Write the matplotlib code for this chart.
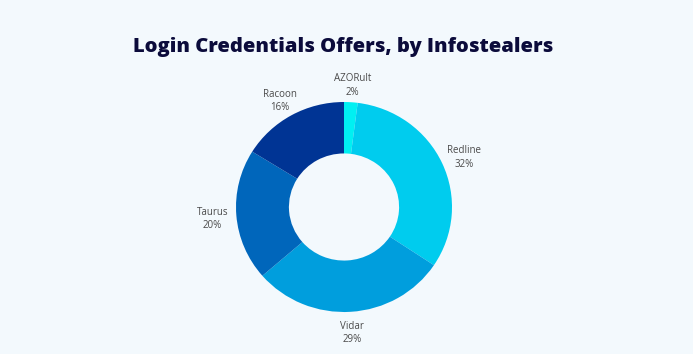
import numpy as np
import matplotlib
matplotlib.use("Agg")
import matplotlib.pyplot as plt

# slice data, clockwise from the top
names = ["AZORult", "Redline", "Vidar", "Taurus", "Racoon"]
shares = [2, 32, 29, 20, 16]
colors = ["#00f0f2", "#00ccee", "#009edd", "#0066bb", "#003494"]

bg = "#f3f9fd"
W, H = 693, 354
cx, cy = 344, 207
rx, ry = 108, 105   # the donut is a touch wider than tall in the original

fig = plt.figure(figsize=(W / 100, H / 100), dpi=100, facecolor=bg)
ax = fig.add_axes([0, 0, 1, 1])
ax.set_facecolor(bg)

wedges, _ = ax.pie(shares, colors=colors, startangle=90, counterclock=False,
                   radius=1, wedgeprops=dict(width=0.49, edgecolor="none"))

ax.set_xlim(-cx / rx, (W - cx) / rx)
ax.set_ylim(-(H - cy) / ry, cy / ry)
ax.set_aspect("auto")
ax.axis("off")

for w, name, v in zip(wedges, names, shares):
    ang = np.deg2rad((w.theta1 + w.theta2) / 2)
    x = 1.22 * np.cos(ang)
    y = 1.18 * np.sin(ang) - 0.02
    ax.text(x, y, f"{name}\n{v}%", ha="center", va="center", fontsize=7,
            color="#4a4a4a", family="Open Sans", linespacing=1.3)

fig.text(343 / W, 1 - 47 / H, "Login Credentials Offers, by Infostealers",
         ha="center", va="center", fontsize=14.5, fontweight="heavy",
         color="#0b0b3b", family="Open Sans")

fig.savefig("out.png", dpi=100, facecolor=bg)
